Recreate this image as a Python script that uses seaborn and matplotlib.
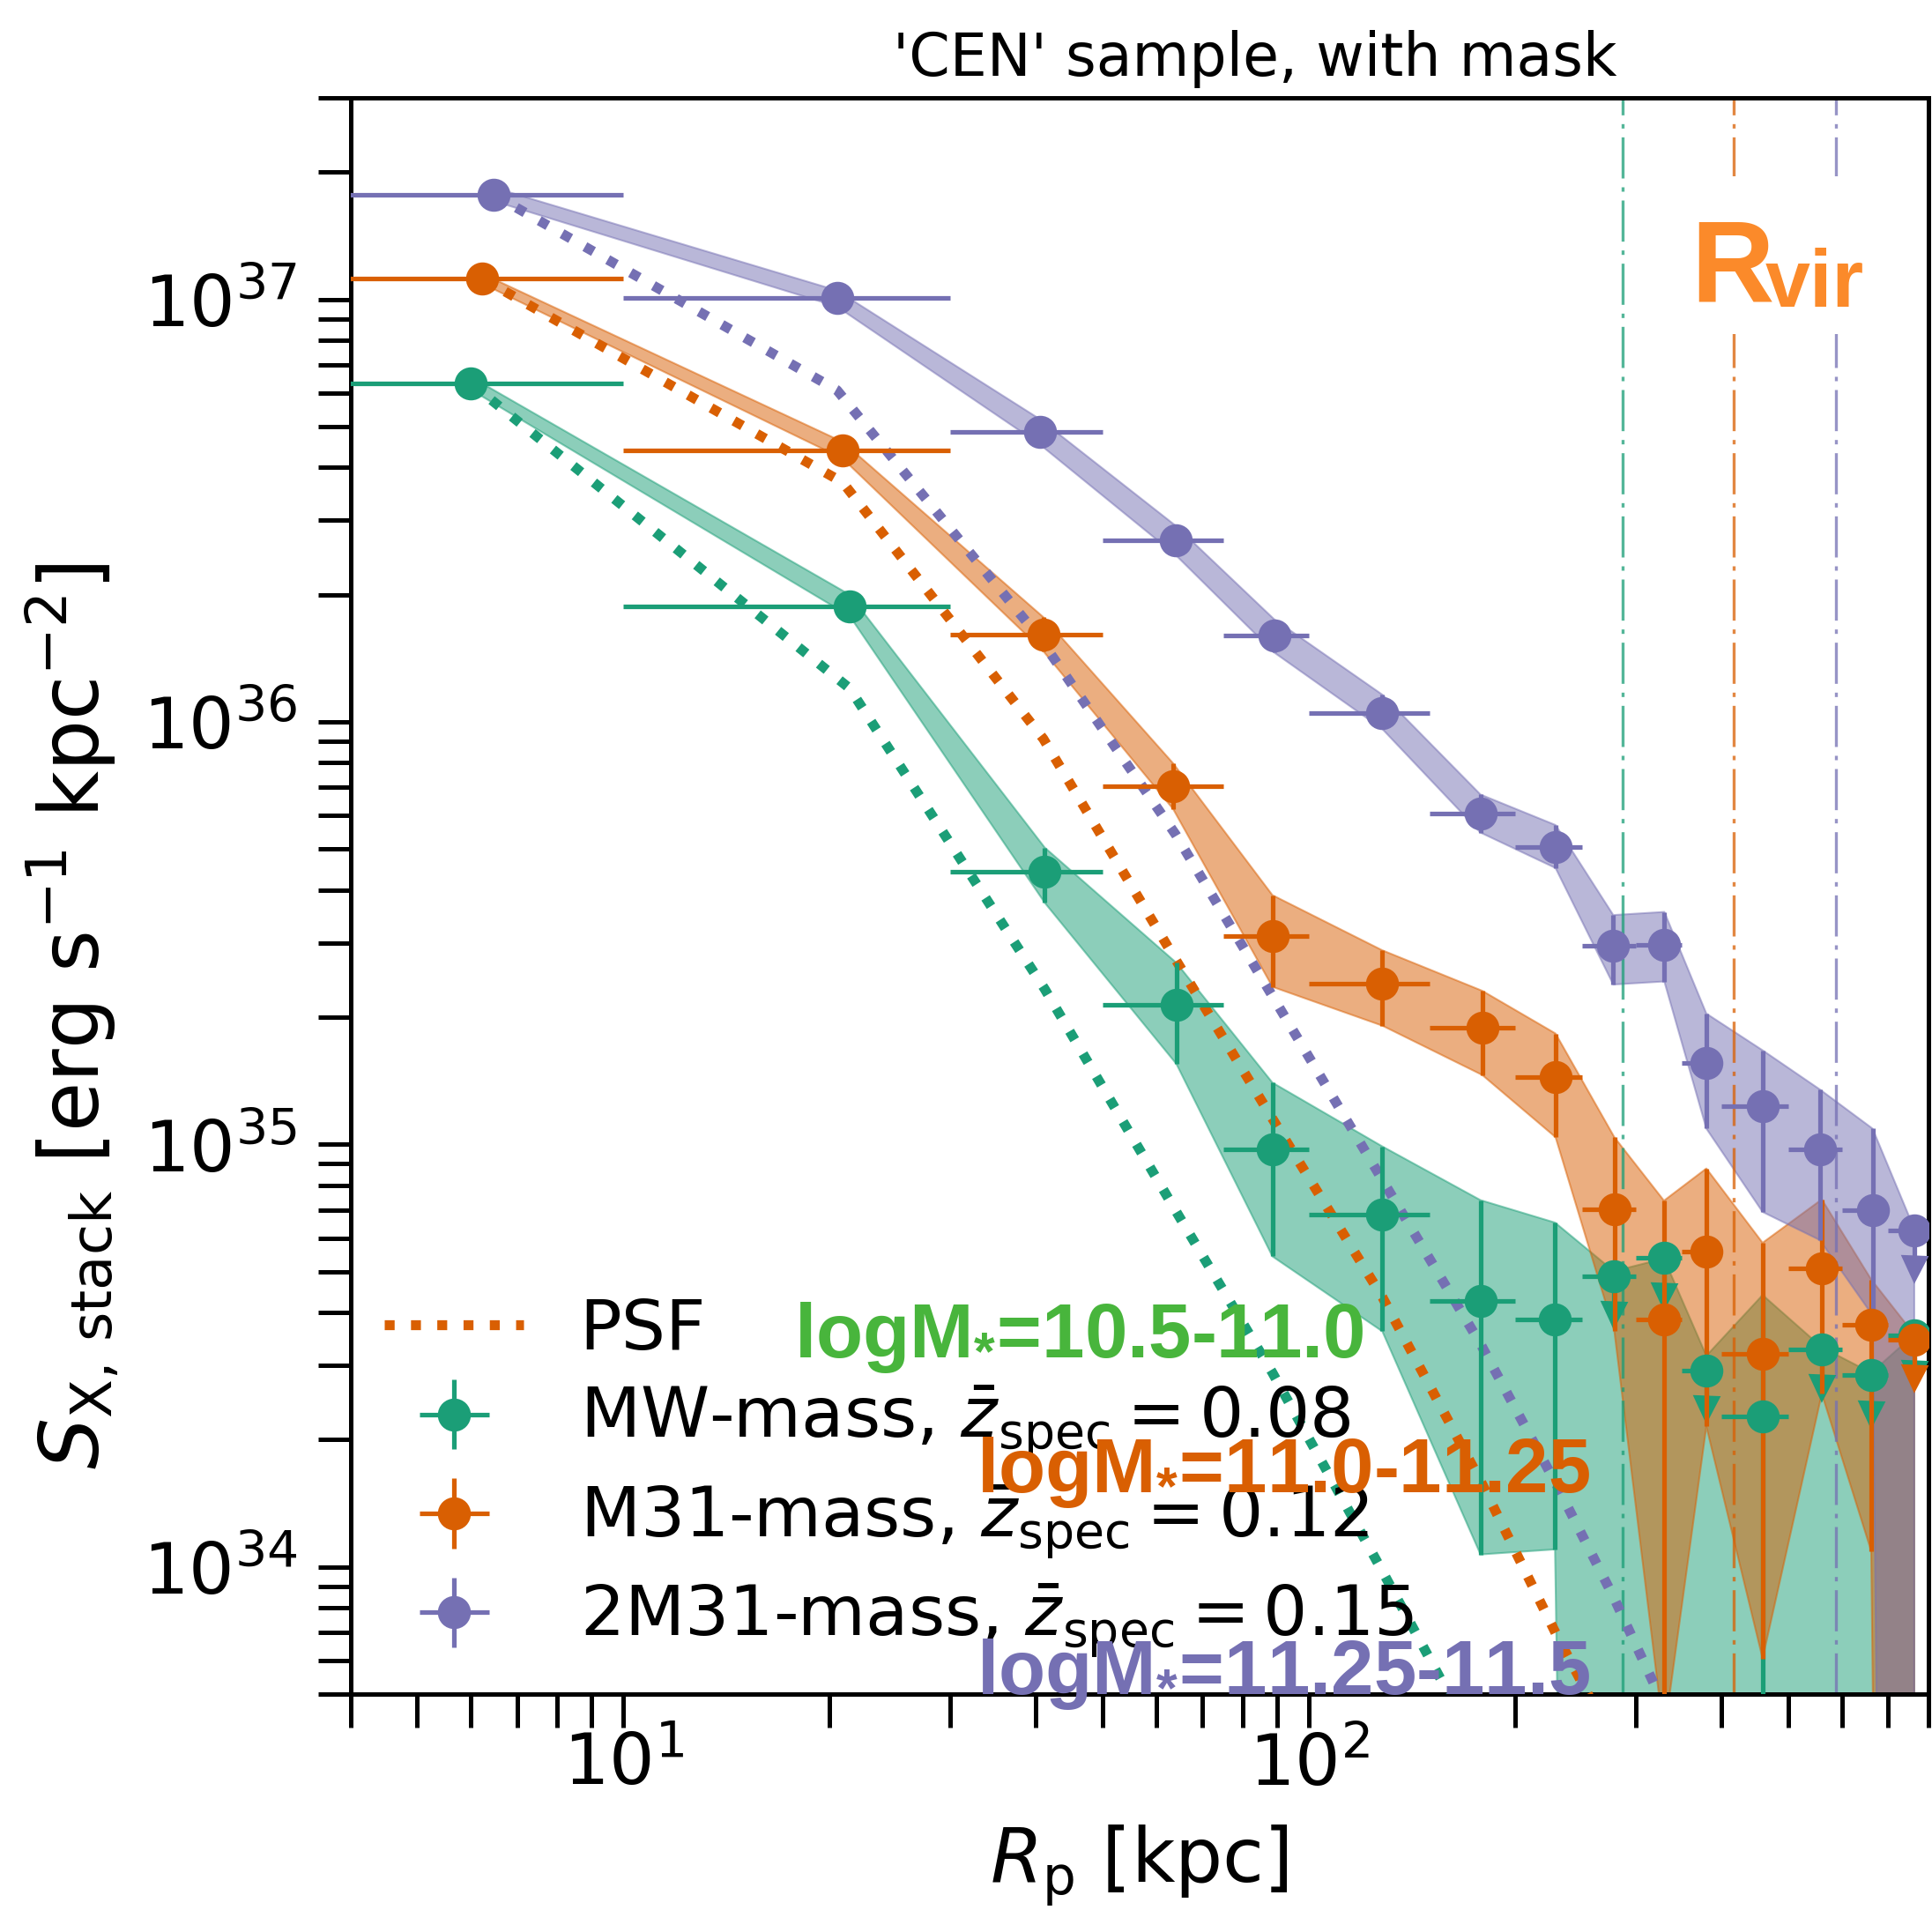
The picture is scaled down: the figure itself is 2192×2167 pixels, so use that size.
import numpy as np
import matplotlib
matplotlib.use("Agg")
import matplotlib.pyplot as plt
from matplotlib.patches import Rectangle
import seaborn as sns

# ---------------------------------------------------------------------------
# Stacked X-ray surface-brightness profiles, 'CEN' sample with mask
# ---------------------------------------------------------------------------

# projected-radius bins [kpc]
bin_lo = [3, 10, 30, 50, 75, 100, 150, 200, 250, 300, 350, 400, 500, 600, 700]
bin_hi = [10, 30, 50, 75, 100, 150, 200, 250, 300, 350, 400, 500, 600, 700, 800]

# MW-mass sample
mw_r = [6.0, 21.4, 41.2, 64.1, 88.5, 128, 178, 228.6, 278.6, 329.6, 380, 459, 560, 661, 764]
mw_sx = [6.32e36, 1.88e36, 4.43e35, 2.14e35, 9.75e34, 6.81e34, 4.25e34, 3.86e34,
         4.88e34, 5.40e34, 2.92e34, 2.27e34, 3.27e34, 2.84e34, 3.53e34]
mw_lo = [6.11e36, 1.78e36, 3.73e35, 1.55e35, 5.43e34, 3.61e34, 1.07e34, 1.10e34,
         0, 0, 0, 0, 0, 0, 0]
mw_hi = [6.55e36, 2.00e36, 5.04e35, 2.69e35, 1.40e35, 9.89e34, 7.38e34, 6.53e34,
         5.01e34, 5.37e34, 3.16e34, 4.40e34, 3.31e34, 2.88e34, 3.55e34]
mw_uplim = [0, 0, 0, 0, 0, 0, 0, 0, 1, 1, 1, 0, 1, 1, 1]
mw_psf = [6.32e36, 1.20e36, 2.33e35, 6.92e34, 2.88e34, 9.77e33, 3.63e33]

# M31-mass sample
m31_r = [6.23, 20.9, 41.0, 63.4, 88.5, 128, 179, 229, 279, 329.6, 380, 459, 560, 661, 764]
m31_sx = [1.12e37, 4.40e36, 1.61e36, 7.06e35, 3.12e35, 2.40e35, 1.89e35, 1.44e35,
          7.01e34, 3.85e34, 5.58e34, 3.20e34, 5.09e34, 3.74e34, 3.45e34]
m31_lo = [1.09e37, 4.20e36, 1.47e36, 6.22e35, 2.36e35, 1.91e35, 1.46e35, 1.04e35,
          3.61e34, 3.98e33, 2.15e34, 6.07e33, 2.57e34, 1.09e34, 0]
m31_hi = [1.15e37, 4.60e36, 1.77e36, 7.98e35, 3.89e35, 2.88e35, 2.31e35, 1.83e35,
          1.04e35, 7.36e34, 8.77e34, 5.85e34, 7.41e34, 4.79e34, 3.55e34]
m31_uplim = [0, 0, 0, 0, 0, 0, 0, 0, 0, 0, 0, 0, 0, 0, 1]
m31_psf = [1.12e37, 3.69e36, 9.12e35, 2.80e35, 1.15e35, 4.35e34, 1.57e34, 6.98e33, 3.80e33]

# 2M31-mass sample
m2_r = [6.47, 20.5, 40.5, 64, 89, 128, 178, 229, 278, 330, 380, 459, 556, 664, 764]
m2_sx = [1.77e37, 1.01e37, 4.86e36, 2.69e36, 1.60e36, 1.05e36, 6.07e35, 5.06e35,
         2.95e35, 2.97e35, 1.56e35, 1.23e35, 9.73e34, 6.98e34, 6.27e34]
m2_lo = [1.71e37, 9.62e36, 4.54e36, 2.48e36, 1.46e36, 9.62e35, 5.47e35, 4.51e35,
         2.39e35, 2.43e35, 1.09e35, 6.92e34, 5.94e34, 3.94e34, 0]
m2_hi = [1.84e37, 1.05e37, 5.21e36, 2.91e36, 1.75e36, 1.16e36, 6.73e35, 5.70e35,
         3.49e35, 3.55e35, 2.04e35, 1.67e35, 1.35e35, 1.09e35, 6.31e34]
m2_uplim = [0, 0, 0, 0, 0, 0, 0, 0, 0, 0, 0, 0, 0, 0, 1]
m2_psf = [1.77e37, 6.10e36, 1.58e36, 5.40e35, 2.21e35, 8.24e34, 3.37e34, 1.58e34, 8.51e33, 4.68e33]

# virial radii [kpc]
r_vir = [287, 417, 588]

labels = [r"MW-mass, $\bar{z}_{\rm spec}=0.08$",
          r"M31-mass, $\bar{z}_{\rm spec}=0.12$",
          r"2M31-mass, $\bar{z}_{\rm spec}=0.15$"]
mass_tags = [r"logM$_{\mathregular{*}}$=10.5-11.0",
             r"logM$_{\mathregular{*}}$=11.0-11.25",
             r"logM$_{\mathregular{*}}$=11.25-11.5"]
tag_colors = ["#48b53c", "#d95f02", "#7570b3"]

# ---------------------------------------------------------------------------
sns.set_theme(style="ticks")
plt.rcParams["font.family"] = ["DejaVu Sans"]
plt.rcParams["mathtext.fontset"] = "dejavusans"
for key in ["text.color", "axes.labelcolor", "xtick.color", "ytick.color",
            "xtick.labelcolor", "ytick.labelcolor", "axes.edgecolor"]:
    plt.rcParams[key] = "black"

W, H, DPI = 2192, 2167, 300
fig = plt.figure(figsize=(W / DPI, H / DPI), dpi=DPI)
ax = fig.add_axes([397.5 / W, 1 - 1922 / H, (2187.5 - 397.5) / W, (1922 - 111) / H])
ax.set_xscale("log")
ax.set_yscale("log")

pal = sns.color_palette("Dark2", 3)
FLOOR = 1e25          # stands in for zero on the log axis
UL_FRAC = 10 ** -0.09  # length of the upper-limit arrows


def draw_sample(r, sx, lo, hi, uplim, psf, color, label):
    r = np.asarray(r, float)
    sx = np.asarray(sx, float)
    lo = np.maximum(np.asarray(lo, float), FLOOR)
    hi = np.asarray(hi, float)
    ul = np.asarray(uplim, bool)
    xl = np.asarray(bin_lo, float)
    xh = np.asarray(bin_hi, float)

    ax.fill_between(r, lo, hi, color=color, alpha=0.5, lw=0.5, zorder=1)

    tip = sx * UL_FRAC
    ylow = np.where(ul, sx - tip, sx - lo)
    yhigh = np.where(ul, 0.0, hi - sx)
    eb = ax.errorbar(r, sx, xerr=[r - xl, xh - r], yerr=[ylow, yhigh],
                     fmt="o", ms=8, color=color, mec=color, elinewidth=1.25,
                     capsize=0, zorder=4, label=label)
    ax.plot(r[ul], tip[ul], ls="none", marker="v", ms=6, color=color, zorder=4)

    n = len(psf)
    sns.lineplot(x=r[:n], y=psf, ax=ax, color=color, lw=2.7,
                 linestyle=":", zorder=3, legend=False, sort=False)
    return eb, ax.lines[-1]


eb_mw, psf_mw = draw_sample(mw_r, mw_sx, mw_lo, mw_hi, mw_uplim, mw_psf, pal[0], labels[0])
eb_m31, psf_m31 = draw_sample(m31_r, m31_sx, m31_lo, m31_hi, m31_uplim, m31_psf, pal[1], labels[1])
eb_m2, psf_m2 = draw_sample(m2_r, m2_sx, m2_lo, m2_hi, m2_uplim, m2_psf, pal[2], labels[2])

for rv, c in zip(r_vir, pal):
    ax.axvline(rv, color=c, lw=0.8, alpha=0.75, ls=(0, (14, 3, 1.5, 3)), zorder=2)

ax.set_xlim(4, 800)
ax.set_ylim(5e33, 3e37)

for side in ["top", "right", "bottom", "left"]:
    ax.spines[side].set_linewidth(1.2)
    ax.spines[side].set_color("black")
ax.tick_params(which="both", direction="out", length=9, width=1.2, color="black",
               top=False, right=False)
ax.tick_params(axis="x", which="both", labelsize=19.5, pad=1)
ax.tick_params(axis="y", which="both", labelsize=19.5, pad=5.5)

ax.set_title("'CEN' sample, with mask", fontsize=16, x=0.5736, pad=6)
ax.set_xlabel(r"$R_{\rm p}$ [kpc]", fontsize=20.5)
ax.xaxis.set_label_coords(0.5, -0.081)
ax.set_ylabel(r"$S_{\rm X,\,stack}$ [erg s$^{-1}$ kpc$^{-2}$]", fontsize=22)
ax.yaxis.set_label_coords(-0.146, 0.4246)

leg = ax.legend([psf_m31, eb_mw, eb_m31, eb_m2], ["PSF"] + labels,
                loc="lower left", bbox_to_anchor=(0.0215, 0.021), frameon=False,
                fontsize=19, borderpad=0, borderaxespad=0, handlelength=2.0,
                handletextpad=0.8, labelspacing=0.3)

# white patch behind the R_vir label
ax.add_patch(Rectangle((1885 / W, 1 - 379 / H), (2150 - 1885) / W, (379 - 200) / H,
                       transform=fig.transFigure, facecolor="white", edgecolor="none",
                       zorder=5))

tag_kw = dict(fontfamily="Liberation Sans", fontweight="bold", ha="left", va="baseline",
              fontsize=20.9, zorder=10)
fig.text(901 / W, 1 - 1540 / H, mass_tags[0], color=tag_colors[0], **tag_kw)
fig.text(1108 / W, 1 - 1693 / H, mass_tags[1], color=tag_colors[1], **tag_kw)
fig.text(1108 / W, 1 - 1922 / H, mass_tags[2], color=tag_colors[2], **tag_kw)

rvir_kw = dict(fontfamily="Liberation Sans", fontweight="bold", ha="left",
               va="baseline", color="#fb8a2a", zorder=10)
fig.text(1918 / W, 1 - 341 / H, "R", fontsize=31.4, **rvir_kw)
fig.text(2003 / W, 1 - 348 / H, "vir", fontsize=22, **rvir_kw)

fig.savefig("out.png", dpi=DPI)
